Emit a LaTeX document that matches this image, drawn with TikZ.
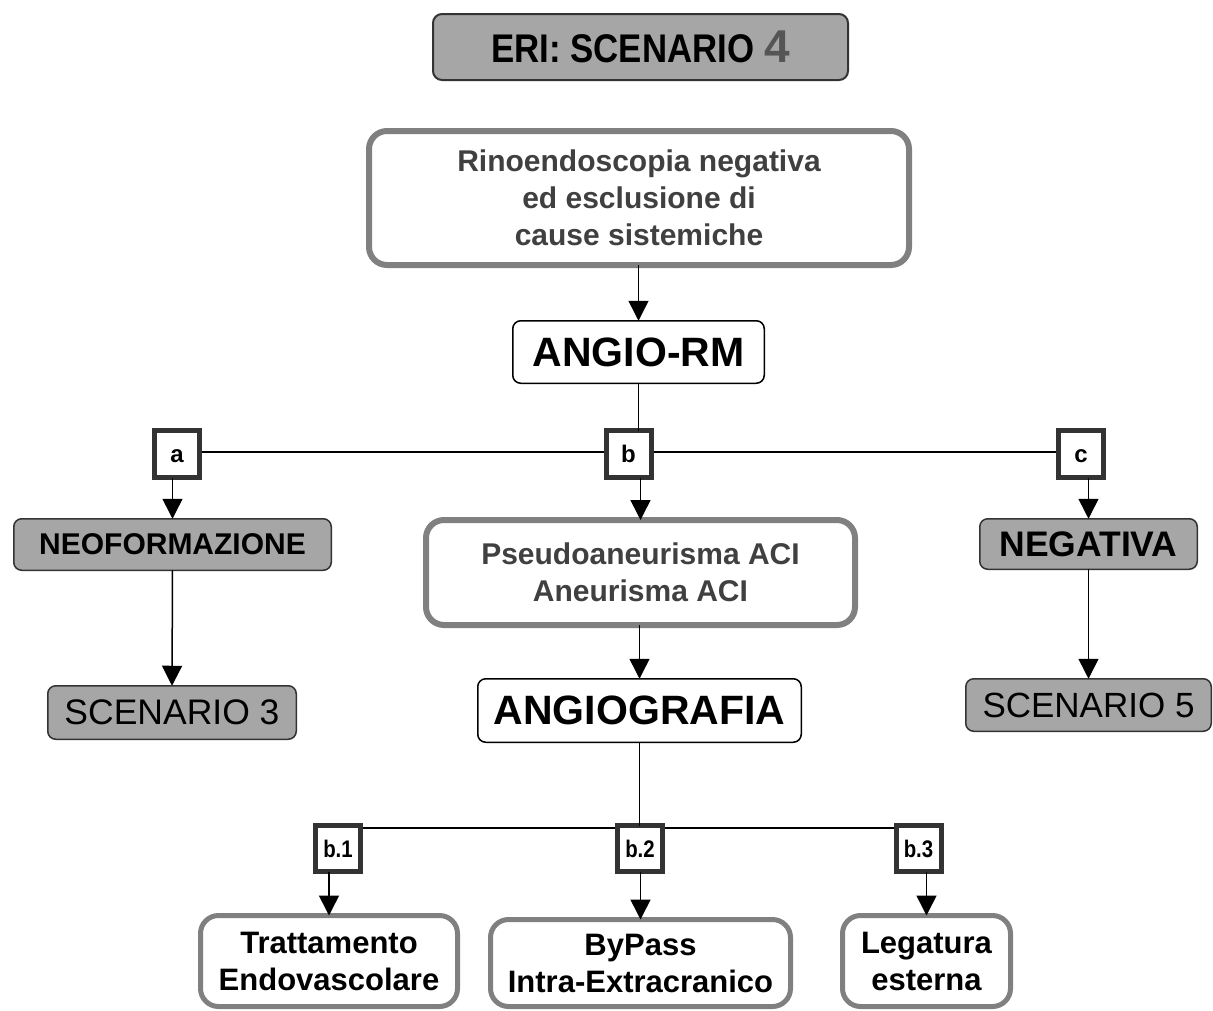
\documentclass[tikz,border=0pt]{standalone}
\usepackage{fontspec}
\usepackage{graphicx}
\setmainfont{Liberation Sans}
\usetikzlibrary{arrows.meta,backgrounds}
\definecolor{boxgray}{HTML}{A6A6A6}
\definecolor{edgegray}{HTML}{808080}
\definecolor{darkline}{HTML}{333333}
\definecolor{txtgray}{HTML}{404040}
\definecolor{fourgray}{HTML}{555555}
\newcommand{\fsz}[2]{\fontsize{#1}{#2}\selectfont}
\begin{document}
\begin{tikzpicture}[x=1pt,y=-1pt,
  every node/.style={inner sep=0pt, outer sep=0pt, align=center},
  titlebox/.style={draw=darkline, line width=2pt, fill=boxgray, rounded corners=9pt},
  bigbox/.style={draw=edgegray, line width=6pt, fill=white, rounded corners=18pt, text=txtgray, font=\fsz{30}{37}\bfseries},
  whitebox/.style={draw=black, line width=1.5pt, fill=white, rounded corners=8pt, font=\fsz{41}{48}\bfseries},
  graybox/.style={draw=darkline, line width=1.5pt, fill=boxgray, rounded corners=8pt},
  letterbox/.style={draw=darkline, line width=5pt, fill=white, minimum width=45pt, minimum height=47pt, text height=17pt, text depth=0pt, font=\fsz{24}{28}\bfseries},
  botbox/.style={draw=edgegray, line width=5pt, fill=white, rounded corners=18pt, font=\fsz{31}{37}\bfseries},
  conn/.style={line width=1.5pt, black},
  arr/.style={conn, -{Triangle[width=20pt,length=20pt]}}
]
\useasboundingbox (0,0) rectangle (1213,1010);

% title
\node[titlebox, minimum width=415pt, minimum height=66pt] (title) at (640.5,47)
  {\scalebox{0.87}[1]{\fsz{40}{46}\bfseries ERI: SCENARIO}\hspace{10pt}\textcolor{fourgray}{\fsz{46}{50}\bfseries 4}};

% main column
\node[bigbox, minimum width=540pt, minimum height=134pt] (rino) at (639,198)
  {Rinoendoscopia negativa\\ ed esclusione di\\ cause sistemiche};
\node[whitebox, minimum width=251.5pt, minimum height=62.5pt] (angiorm) at (638.5,352) {ANGIO-RM};

\node[letterbox] (a) at (177,454) {a};
\node[letterbox] (b) at (628.5,454) {b};
\node[letterbox] (c) at (1081,454) {c};

\node[graybox, minimum width=317.5pt, minimum height=51.5pt, font=\fsz{30}{36}\bfseries] (neo) at (172.5,544.5) {NEOFORMAZIONE};
\node[graybox, minimum width=248.5pt, minimum height=53.5pt, font=\fsz{35.5}{40}] (sc3) at (172,712.5) {SCENARIO 3};

\node[graybox, minimum width=217.5pt, minimum height=50.5pt, font=\fsz{35.5}{40}\bfseries] (neg) at (1088.5,544) {NEGATIVA};
\node[graybox, minimum width=245.5pt, minimum height=52.5pt, font=\fsz{35}{40}] (sc5) at (1088.5,705) {SCENARIO 5};

\node[bigbox, minimum width=429pt, minimum height=105pt] (pseudo) at (640.5,572.5)
  {Pseudoaneurisma ACI\\ Aneurisma ACI};
\node[whitebox, minimum width=323.5pt, minimum height=63.5pt] (angiografia) at (639.5,710.5) {ANGIOGRAFIA};

\node[letterbox, minimum height=46pt] (b1) at (338,848.5) {\scalebox{0.85}[1]{b.1}};
\node[letterbox, minimum height=46pt] (b2) at (640,848.5) {\scalebox{0.85}[1]{b.2}};
\node[letterbox, minimum height=46pt] (b3) at (918.5,848.5) {\scalebox{0.85}[1]{b.3}};

\node[botbox, minimum width=257pt, minimum height=91pt] (tratt) at (329,961)
  {Trattamento\\ Endovascolare};
\node[botbox, minimum width=300pt, minimum height=87pt] (bypass) at (640.5,963)
  {ByPass\\ Intra-Extracranico};
\node[botbox, minimum width=168pt, minimum height=91pt] (leg) at (926.5,961)
  {Legatura\\ esterna};

\coordinate (hl) at (638,452);
\coordinate (hlb) at (639.5,828);

\begin{pgfonlayer}{background}
  \draw[conn] (a.east |- hl) -- (c.west |- hl);
  \draw[conn] (b1.east |- hlb) -- (b3.west |- hlb);
\end{pgfonlayer}

% connectors
\draw[arr] (angiorm.north |- rino.south) -- (angiorm.north);
\draw[conn] (angiorm.south) -- (angiorm.south |- b.north);
\draw[arr] (neo.north |- a.south) -- (neo.north);
\draw[arr] (pseudo.north |- b.south) -- (pseudo.north);
\draw[arr] (neg.north |- c.south) -- (neg.north);
\draw[arr] (neo.south) -- (sc3.north);
\draw[arr] (neg.south) -- (sc5.north);
\draw[arr] (angiografia.north |- pseudo.south) -- (angiografia.north);
\draw[conn] (angiografia.south) -- (angiografia.south |- b2.north);
\draw[arr] (tratt.north |- b1.south) -- (tratt.north);
\draw[arr] (bypass.north |- b2.south) -- (bypass.north);
\draw[arr] (leg.north |- b3.south) -- (leg.north);
\end{tikzpicture}
\end{document}
